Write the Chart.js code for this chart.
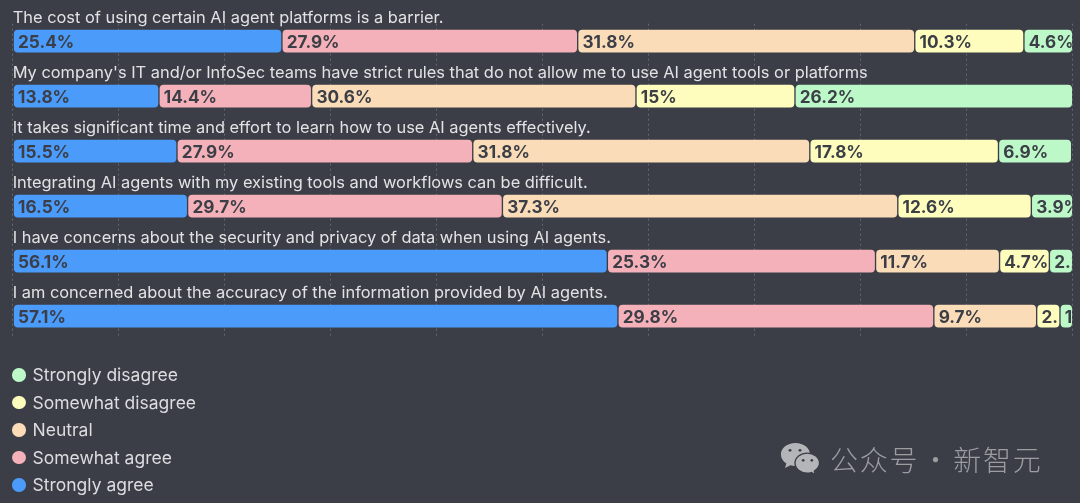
<!DOCTYPE html>
<html><head><meta charset="utf-8">
<style>
html,body{margin:0;padding:0;background:#3b3e46;width:1080px;height:503px;overflow:hidden}
#wrap{position:relative;width:1080px;height:503px}
canvas{display:block}
#legend{position:absolute;left:12px;top:361px;margin:0;padding:0;list-style:none;color:#dcdde0;font:400 17.5px/27.6px Inter,"Noto Sans",sans-serif}
#legend li{display:flex;align-items:center;height:27.6px;white-space:nowrap}
#legend i{display:block;width:13.5px;height:13.5px;border-radius:50%;margin-right:7px}
#wm{position:absolute;left:780px;top:439px;height:40px;display:flex;align-items:center;color:#9b9da1;font:300 28px "Noto Sans CJK SC";letter-spacing:1.8px;word-spacing:-6px;white-space:nowrap}
#wm svg{margin-right:10px}
</style></head><body>
<div id="wrap"><canvas id="c" width="1080" height="503"></canvas>
<ul id="legend"></ul>
<div id="wm"><svg width="40" height="34" viewBox="0 0 44 37"><path fill="#b3b5b8" d="M17 1C8 1 1 6.500 1 13.500c0 4 2.300 7.500 6 10l-1.500 5 6-3c1.800.5 3.500.8 5.500.8C26 26.300 33 20.500 33 13.500 33 6.500 26 1 17 1z"/><path fill="#b3b5b8" stroke="#3b3e46" stroke-width="1.500" d="M30 12c-7.500 0-13.500 4.800-13.500 11S22.500 34 30 34c1.500 0 3-.2 4.300-.6l4.700 2.400-1.200-4C41 29.800 43.500 26.700 43.500 23 43.500 16.800 37.500 12 30 12z"/><circle cx="11" cy="9" r="1.600" fill="#3b3e46"/><circle cx="22" cy="9" r="1.600" fill="#3b3e46"/><circle cx="25.500" cy="20" r="1.500" fill="#3b3e46"/><circle cx="35" cy="20" r="1.500" fill="#3b3e46"/></svg><span>公众号 · 新智元</span></div>
</div>
<script src="https://cdn.jsdelivr.net/npm/chart.js@4/dist/chart.umd.min.js"></script>
<script>
const categories = [
 "The cost of using certain AI agent platforms is a barrier.",
 "My company's IT and/or InfoSec teams have strict rules that do not allow me to use AI agent tools or platforms",
 "It takes significant time and effort to learn how to use AI agents effectively.",
 "Integrating AI agents with my existing tools and workflows can be difficult.",
 "I have concerns about the security and privacy of data when using AI agents.",
 "I am concerned about the accuracy of the information provided by AI agents."
];
const stronglyAgree    = [25.4, 13.8, 15.5, 16.5, 56.1, 57.1];
const somewhatAgree    = [27.9, 14.4, 27.9, 29.7, 25.3, 29.8];
const neutral          = [31.8, 30.6, 31.8, 37.3, 11.7, 9.7];
const somewhatDisagree = [10.3, 15, 17.8, 12.6, 4.7, 2.2];
const stronglyDisagree = [4.6, 26.2, 6.9, 3.9, 2.2, 1.2];
const xTicks = [0,10,20,30,40,50,60,70,80,90,100];

const BG = '#3b3e46', FF = 'Inter, "Noto Sans", sans-serif';
const ds = (label, data, color) => ({label, data, backgroundColor: color, borderColor: 'transparent',
  borderWidth: 1, borderSkipped: false,
  borderRadius: {topLeft: 5, topRight: 5, bottomLeft: 5, bottomRight: 5}, barThickness: 24});

const gridTrim = {
  id: 'gridTrim',
  beforeDatasetsDraw(chart) {
    const ctx = chart.ctx, a = chart.chartArea;
    ctx.save();
    ctx.fillStyle = BG;
    ctx.fillRect(0, a.top - 2, 1080, 10.3);
    ctx.fillRect(0, a.bottom - 6.7, 1080, 10);
    ctx.restore();
  }
};
const barLabels = {
  id: 'barLabels',
  afterDatasetsDraw(chart) {
    const ctx = chart.ctx;
    chart.data.datasets.forEach((d, di) => {
      chart.getDatasetMeta(di).data.forEach((bar, i) => {
        const l = Math.min(bar.base, bar.x), r = Math.max(bar.base, bar.x);
        ctx.save();
        ctx.beginPath();
        ctx.rect(l, bar.y - 13, r - l - 1, 26);
        ctx.clip();
        ctx.fillStyle = BG;
        ctx.font = '700 17.2px ' + FF;
        ctx.textBaseline = 'middle';
        ctx.textAlign = 'left';
        ctx.fillText(d.data[i] + '%', l + 4.8, bar.y + 1.5);
        ctx.restore();
      });
    });
  }
};

const chart = new Chart(document.getElementById('c'), {
  type: 'bar',
  data: { labels: categories, datasets: [
    ds('Strongly agree', stronglyAgree, '#4b9bfb'),
    ds('Somewhat agree', somewhatAgree, '#f5b1b9'),
    ds('Neutral', neutral, '#fadcb9'),
    ds('Somewhat disagree', somewhatDisagree, '#fefdbd'),
    ds('Strongly disagree', stronglyDisagree, '#bdf9c8')
  ]},
  plugins: [gridTrim, barLabels],
  options: {
    indexAxis: 'y', responsive: false, animation: false, devicePixelRatio: 1,
    layout: { padding: { top: 13.7, left: 12.7, right: 7.3, bottom: 159.3 } },
    scales: {
      x: { stacked: true, min: 0, max: 100,
        afterBuildTicks: s => { s.ticks = xTicks.map(v => ({value: v})); },
        afterFit: s => { s.height = 0; },
        border: { display: false, dash: [2, 3] },
        ticks: { display: false },
        grid: { drawTicks: false, color: '#64676e', lineWidth: 1 } },
      y: { stacked: true, type: 'category',
        afterFit: s => { s.width = 0; },
        border: { display: false },
        grid: { display: false, drawTicks: false },
        ticks: { mirror: true, z: 1, padding: 0, labelOffset: -22.7, autoSkip: false, color: '#e2e3e5',
                 font: { family: FF, size: 16.4, weight: '400' } } }
    },
    plugins: { tooltip: { enabled: false }, title: { display: false }, legend: { display: false } }
  }
});

const legendEl = document.getElementById('legend');
[...chart.data.datasets].reverse().forEach(d => {
  const li = document.createElement('li');
  const dot = document.createElement('i');
  dot.style.background = d.backgroundColor;
  li.appendChild(dot);
  li.appendChild(document.createTextNode(d.label));
  legendEl.appendChild(li);
});
</script>
</body></html>
